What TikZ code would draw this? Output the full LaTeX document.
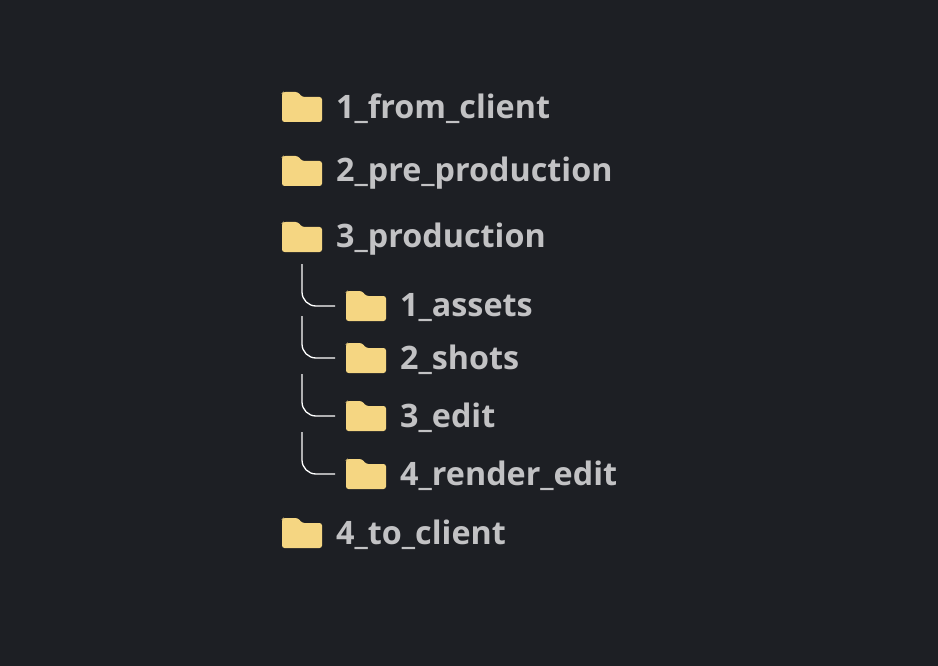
\documentclass[tikz,border=0pt]{standalone}
\usepackage{fontspec}
\setmainfont{Open Sans}
\definecolor{bg}{HTML}{1D1F24}
\definecolor{fold}{HTML}{F5D682}
\definecolor{txt}{HTML}{C2C2C4}
\tikzset{
  lbl/.style={anchor=west,inner sep=0pt,text=txt,font=\fontsize{32.3}{35}\selectfont\bfseries},
  conn/.style={draw=white,line width=1.3pt,rounded corners=14pt},
  pics/folder/.style={code={
    \fill[fold,rounded corners=2.5pt] (0,15) -- (0,-14) -- (1,-15) -- (16,-15) -- (20,-10) -- (40,-10) -- (40,15) -- cycle;
  }}
}
\begin{document}
\begin{tikzpicture}[x=1pt,y=-1pt]
\fill[bg] (0,0) rectangle (938,666);
\foreach \y/\t/\n in {107/1\_from\_client/a,171/2\_pre\_production/b,237/3\_production/c,533/4\_to\_client/d}{
  \pic at (282,\y) {folder};
  \node[lbl] (\n) at (336,\y+2) {\t};
}
\foreach \y/\t/\n in {306/1\_assets/s1,358/2\_shots/s2,416/3\_edit/s3,474/4\_render\_edit/s4}{
  \pic at (346,\y) {folder};
  \node[lbl] (\n) at (400,\y+2) {\t};
  \coordinate (e\n) at (335,\y);
  \coordinate (t\n) at (302,\y-42);
  \draw[conn] (t\n) |- (e\n);
}
\end{tikzpicture}
\end{document}
